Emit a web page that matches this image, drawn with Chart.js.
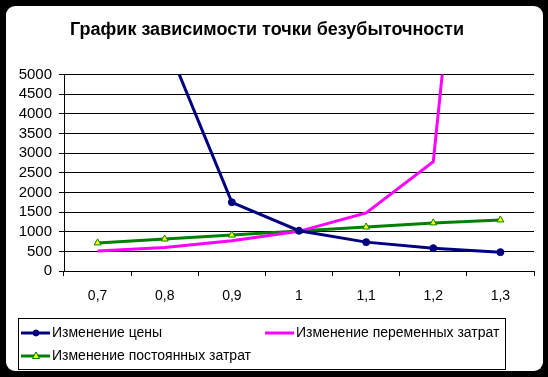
<!DOCTYPE html>
<html>
<head>
<meta charset="utf-8">
<script src="https://cdn.jsdelivr.net/npm/chart.js@4/dist/chart.umd.min.js"></script>
<style>
  html, body { margin: 0; padding: 0; background: #000; }
  #wrap { width: 548px; height: 377px; }
</style>
</head>
<body>
<div id="wrap"><canvas id="myChart" width="548" height="377"></canvas></div>
<script>
// categories and values
var categories = ['0,7', '0,8', '0,9', '1', '1,1', '1,2', '1,3'];
var priceChange = [null, 5900, 1750, 1025, 735, 580, 480];
var varCostChange = [510, 600, 770, 1010, 1480, 2780, 19500];
var fixCostChange = [715, 815, 915, 1020, 1120, 1225, 1300];
var yTicks = [0, 500, 1000, 1500, 2000, 2500, 3000, 3500, 4000, 4500, 5000];

var fontFamily = '"Liberation Sans", Arial, sans-serif';

// white rounded panel behind everything
var panelPlugin = {
  id: 'panel',
  beforeDraw: function (chart) {
    var c = chart.ctx;
    c.save();
    c.fillStyle = '#000';
    c.fillRect(0, 0, chart.width, chart.height);
    c.fillStyle = '#fff';
    c.beginPath();
    c.roundRect(6, 6, 537, 365, 9);
    c.fill();
    c.restore();
  }
};

// legend box like the excel one
var legendPlugin = {
  id: 'boxLegend',
  afterDraw: function (chart) {
    var c = chart.ctx;
    var ds = chart.data.datasets;
    var spots = [
      {x: 21, y: 333, tx: 52},
      {x: 265, y: 333, tx: 296},
      {x: 21, y: 356, tx: 52}
    ];
    c.save();
    c.strokeStyle = '#000';
    c.lineWidth = 1;
    c.strokeRect(18.5, 318.5, 487, 51);
    c.font = '14px ' + fontFamily;
    c.textBaseline = 'middle';
    c.fillStyle = '#000';
    for (var i = 0; i < ds.length; i++) {
      var s = spots[i];
      c.strokeStyle = ds[i].borderColor;
      c.lineWidth = 3;
      c.beginPath();
      c.moveTo(s.x, s.y);
      c.lineTo(s.x + 29, s.y);
      c.stroke();
      if (ds[i].pointRadius > 0) {
        var mx = s.x + 15;
        c.fillStyle = ds[i].pointBackgroundColor;
        c.strokeStyle = ds[i].pointBorderColor;
        c.lineWidth = 1;
        c.beginPath();
        if (ds[i].pointStyle === 'triangle') {
          c.moveTo(mx, s.y - 4);
          c.lineTo(mx + 3.5, s.y + 2.5);
          c.lineTo(mx - 3.5, s.y + 2.5);
          c.closePath();
        } else {
          c.arc(mx, s.y, 3, 0, Math.PI * 2);
        }
        c.fill();
        c.stroke();
      }
      c.fillStyle = '#000';
      c.fillText(ds[i].label, s.tx, s.y);
    }
    c.restore();
  }
};

var ctx = document.getElementById('myChart').getContext('2d');
var chart = new Chart(ctx, {
  type: 'line',
  data: {
    labels: categories,
    datasets: [{
      label: 'Изменение цены',
      data: priceChange,
      borderColor: '#000080',
      backgroundColor: '#000080',
      borderWidth: 3,
      pointStyle: 'circle',
      pointRadius: 3.5,
      pointBackgroundColor: '#000080',
      pointBorderColor: '#000080',
      pointBorderWidth: 1,
      tension: 0
    }, {
      label: 'Изменение переменных затрат',
      data: varCostChange,
      borderColor: '#ff00ff',
      backgroundColor: '#ff00ff',
      borderWidth: 3,
      pointRadius: 0,
      tension: 0
    }, {
      label: 'Изменение постоянных затрат',
      data: fixCostChange,
      borderColor: '#008000',
      backgroundColor: '#008000',
      borderWidth: 3,
      pointStyle: 'triangle',
      pointRadius: 4,
      pointBackgroundColor: '#ffff00',
      pointBorderColor: '#008000',
      pointBorderWidth: 1,
      tension: 0
    }]
  },
  options: {
    responsive: false,
    animation: false,
    devicePixelRatio: 1,
    layout: {
      padding: { left: 0, right: 14, top: 0, bottom: 56 }
    },
    plugins: {
      legend: { display: false },
      tooltip: { enabled: false },
      title: {
        display: true,
        text: 'График зависимости точки безубыточности',
        color: '#000',
        font: { family: fontFamily, size: 18, weight: 'bold' },
        padding: { top: 19, bottom: 34 }
      }
    },
    scales: {
      x: {
        offset: true,
        grid: {
          offset: true,
          drawOnChartArea: false,
          drawTicks: true,
          tickLength: 5,
          color: '#000'
        },
        border: { display: true, color: '#000' },
        ticks: {
          color: '#000',
          padding: 12,
          maxRotation: 0,
          font: { family: fontFamily, size: 14 }
        },
        afterFit: function (scale) { scale.height = 50; }
      },
      y: {
        min: 0,
        max: 5000,
        afterBuildTicks: function (scale) {
          scale.ticks = yTicks.map(function (v) { return {value: v}; });
        },
        grid: {
          color: '#000',
          tickLength: 5
        },
        border: { display: true, color: '#000' },
        ticks: {
          color: '#000',
          padding: 7,
          autoSkip: false,
          font: { family: fontFamily, size: 15 },
          callback: function (v) { return String(v); }
        },
        afterFit: function (scale) { scale.width = 64; }
      }
    }
  },
  plugins: [panelPlugin, legendPlugin]
});
</script>
</body>
</html>
